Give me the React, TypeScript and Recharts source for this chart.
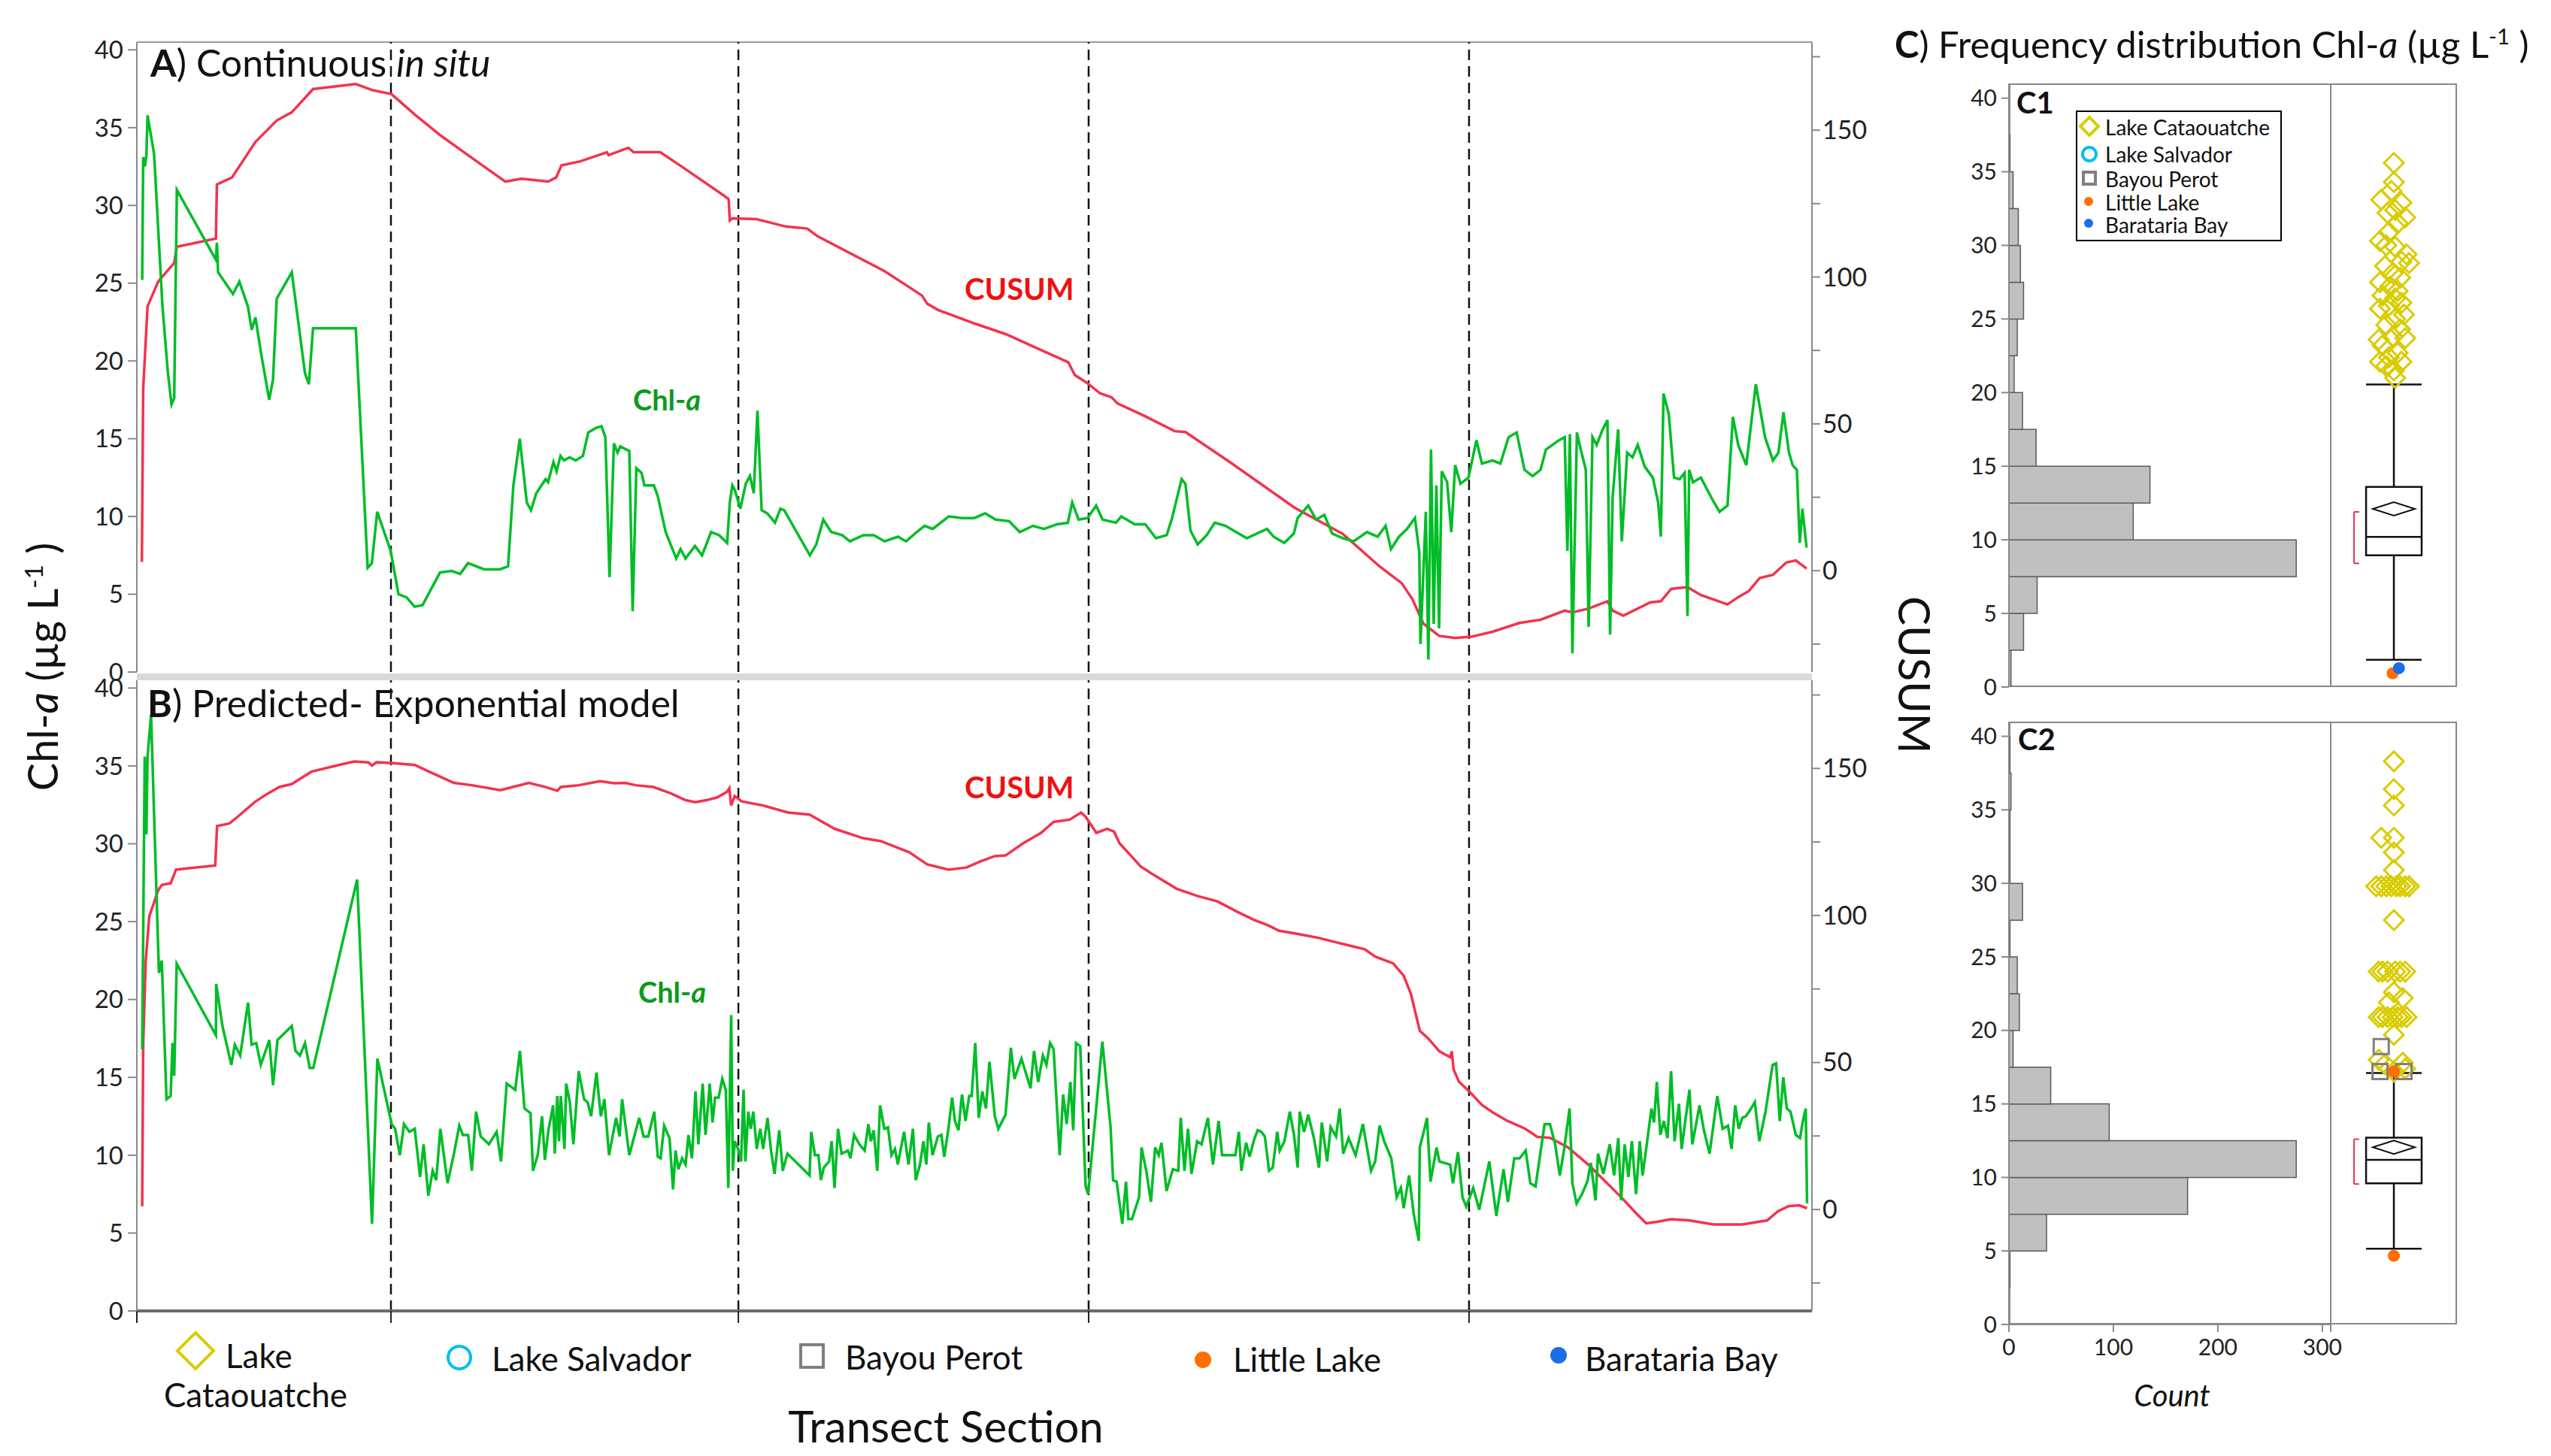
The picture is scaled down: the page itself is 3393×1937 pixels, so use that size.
import React from "react";
import {
  LineChart,
  Line,
  XAxis,
  YAxis,
  ReferenceLine,
  ReferenceArea,
  ComposedChart,
  Bar,
  Scatter,
} from "recharts";

// ---------- data (transect position 0-1000, Chl-a in µg/L, CUSUM) ----------

const sectionBreaks = [151.7, 359.1, 568.2, 795.3];
const chlTicks = [0, 5, 10, 15, 20, 25, 30, 35, 40];
const cusumTicks = [-25, 0, 25, 50, 75, 100, 125, 150, 175];
const histTicks = [0, 5, 10, 15, 20, 25, 30, 35, 40];
const countTicks = [0, 100, 200, 300];

const cusumInSitu = [
  [3, 3], [3.8, 62], [6.4, 90], [12.8, 98.5], [22.3, 104.8], [23.9, 110.3], [47.2, 113.1], [47.8, 131.5],
  [56.8, 133.9], [70.8, 146], [83.5, 153.3], [92.5, 156.1], [105.2, 164], [130.7, 165.7], [140.3, 163.7],
  [152, 162.3], [165.8, 155.4], [181.8, 148], [197.7, 141.5], [220, 132.5], [229.6, 133.5], [245.5, 132.5],
  [250.3, 133.9], [253.5, 138], [264.7, 139.4], [280.6, 142.5], [281.6, 141.5], [293.4, 144], [296.6, 142.5],
  [312.5, 142.5], [325.3, 137.6], [350.8, 127.6], [353.3, 126.5], [354, 119.3], [355.5, 120], [369.9, 119.7],
  [387.4, 117.2], [400.2, 116.5], [406.6, 113.8], [446.4, 102], [468.7, 93.7], [471.9, 90.9], [478.3, 88.8],
  [500, 84.2], [519, 80.5], [538, 75.6], [556, 71], [560, 66.6], [567.6, 63.8], [575, 60.4], [582, 59],
  [585.5, 56.9], [599, 53.4], [619.6, 47.5], [626, 47.2], [653, 36.8], [691, 21.5], [720, 12.5], [742, 1.4],
  [755, -4.2], [761.5, -9.7], [768, -18], [777.4, -22.2], [787, -22.9], [796.6, -22.5], [809.3, -20.8],
  [825.3, -17.8], [838, -16.7], [852.4, -13.6], [857, -14.2], [866.7, -12.9], [877.9, -10.4], [881, -13.6],
  [887.4, -15.3], [903.4, -10.8], [909.8, -10.4], [916, -6.2], [925.7, -5.6], [933.7, -8.3], [949.6, -11.5],
  [956, -9], [962.4, -6.9], [968.8, -2.5], [976.7, -1.4], [984.7, 2.8], [990.4, 3.5], [996.8, 0.7],
];

const chlInSitu = [
  [3.2, 25.2], [3.8, 33.1], [4.8, 32.5], [5.7, 33.2], [6.4, 35.8], [10.3, 33.3], [15.3, 23.5], [18.5, 19.3],
  [20.7, 17.2], [22.3, 17.6], [23.9, 31], [47.2, 26.5], [47.8, 27.6], [48.5, 25.7], [57.4, 24.3], [61.2, 25.1],
  [66.3, 23.5], [68.6, 22], [70.8, 22.8], [74, 20.6], [79, 17.5], [81.3, 18.8], [83.5, 24], [92.5, 25.7],
  [100.4, 19.2], [102.7, 18.5], [105.2, 22.1], [130.7, 22.1], [137.8, 6.7], [140.3, 7], [143.5, 10.3],
  [151.5, 7.8], [156.2, 5], [161, 4.8], [165.8, 4.2], [170.6, 4.3], [177, 5.6], [181, 6.4], [188, 6.5],
  [193, 6.3], [197.7, 7], [207.3, 6.6], [216.8, 6.6], [221.6, 6.8], [224.8, 12], [228.6, 15], [232.8, 10.9],
  [235.3, 10.4], [238.5, 11.5], [244, 12.4], [245.5, 12.2], [248.7, 13.5], [250.6, 12.9], [252.9, 13.9],
  [255, 13.6], [258.3, 13.8], [262, 13.6], [266.3, 13.9], [269.5, 15.4], [274.2, 15.7], [277.4, 15.8],
  [279.7, 15.1], [282.2, 6.1], [284.8, 14.7], [287, 14.1], [288.6, 14.5], [294, 14.2], [296, 3.9], [298.2, 13.1],
  [301.3, 12.8], [303, 12], [308.7, 12], [311, 11.3], [315.7, 9], [322, 7.3], [324.6, 7.9], [327.5, 7.3],
  [333.2, 8.1], [337.4, 7.5], [342.8, 9], [347.6, 8.8], [352.4, 8.3], [354, 10.9], [355.5, 12], [357, 11.7],
  [360.3, 10.5], [363.5, 12.1], [366, 12.6], [368.3, 11.5], [370.5, 16.8], [373, 10.4], [376.3, 10.2],
  [381, 9.6], [384.2, 10.5], [386.5, 10.4], [401.8, 7.5], [405.6, 8.2], [409.8, 9.8], [414.5, 9], [421, 8.8],
  [425.7, 8.4], [433.7, 8.8], [440, 8.8], [446.4, 8.4], [454.4, 8.7], [459.2, 8.4], [465.6, 9], [470.3, 9.4],
  [475.1, 9.2], [484.7, 10], [492.7, 9.9], [500, 9.9], [506.4, 10.2], [512.8, 9.8], [520.7, 9.7], [527.1, 9],
  [535, 9.4], [541.5, 9.2], [549.4, 9.5], [555.8, 9.6], [558.4, 10.9], [562.2, 9.8], [567.6, 9.9], [572.7, 10.7],
  [576.5, 9.8], [584.5, 9.6], [587.7, 10], [595.7, 9.5], [602, 9.5], [608.4, 8.6], [614.8, 8.8], [618, 9.9],
  [623.7, 12.4], [626, 12.1], [629, 9.1], [633.3, 8.2], [638.7, 8.8], [643.5, 9.6], [649.9, 9.4], [656.2, 9],
  [662.6, 8.6], [674.7, 9.2], [678.6, 8.7], [685, 8.3], [690.7, 8.9], [693, 9.9], [699.3, 10.7], [704, 9.8],
  [708.9, 10.1], [713.6, 8.9], [720, 8.6], [726.4, 8.4], [734.4, 9], [740.7, 8.7], [745.5, 9.4], [748.7, 7.9],
  [753.5, 8.7], [758.3, 9.2], [763, 9.9], [765.6, 7.7], [766.3, 1.8], [769.5, 10.3], [771, 0.8], [772.6, 14.3],
  [774.2, 3.1], [775.8, 12], [777.4, 2.8], [779, 12.9], [782.2, 12.2], [784.7, 9], [787, 13.3], [790.2, 12.1],
  [795, 12.5], [799.7, 14.9], [803, 13.4], [809.3, 13.6], [814, 13.4], [818.9, 15.1], [823.7, 15.4],
  [828.4, 13], [833.2, 12.6], [838, 13], [841.2, 14.3], [849, 14.9], [852.4, 15.1], [854, 7.8], [855.5, 15.3],
  [857, 1.2], [859.7, 15.4], [862, 14.3], [865, 13], [866.7, 2.9], [869, 15.1], [871.5, 14.6], [874.7, 15.5],
  [877.9, 16.2], [879.5, 2.4], [881, 11.2], [884.3, 15.6], [886.5, 8.4], [889.7, 14.1], [892.9, 13.8],
  [896, 14.6], [900.2, 13.2], [905, 12.5], [908.2, 10.9], [909.8, 8.7], [911.4, 17.9], [914.5, 16.6],
  [917.7, 12.5], [921, 12.4], [924, 12.8], [925.7, 3.6], [926.7, 13], [929, 12.2], [933.7, 12.5], [940, 11.2],
  [944.8, 10.3], [949.6, 10.7], [952.8, 16.4], [956, 14.6], [960.8, 13.3], [966.5, 18.5], [972, 15.1],
  [976.7, 13.6], [980, 14.1], [983, 16.7], [986.3, 14.1], [988.5, 13.3], [991, 13], [992.7, 8.3],
  [994.3, 10.5], [996.8, 8],
];

const cusumPredicted = [
  [3.2, 1.1], [3.8, 56.6], [5.3, 84.4], [7.4, 99.6], [12.8, 108.6], [14.9, 110.4], [20.2, 111], [23.4, 115.6],
  [46.8, 117], [47.9, 130.4], [55.3, 131.3], [61.7, 134.3], [70.2, 138.5], [77.6, 141.3], [85.1, 143.7],
  [92.5, 144.7], [104.2, 148.9], [119.1, 151], [129.8, 152.4], [138.3, 152.1], [140.4, 151], [143, 152.1],
  [152.1, 151.9], [165.9, 151.2], [178.7, 147.8], [189.3, 145.1], [200, 144.3], [217, 142.6], [224.4, 143.7],
  [234, 145.1], [244.6, 143.6], [251, 142.4], [253.1, 143.7], [263.8, 144.3], [276.5, 145.7], [285, 145],
  [291.4, 145.1], [297.8, 144.3], [308.4, 143.7], [319, 141.5], [327.6, 139.2], [333.5, 138.5], [339.9, 139.2],
  [346.3, 140.1], [352.2, 142], [353.7, 143.3], [354.8, 137.4], [356.9, 140.6], [361.2, 138.8], [373.9, 137.4],
  [388.8, 135], [401.6, 134.3], [416.5, 129.5], [433.5, 126.3], [444.1, 125.3], [461.1, 121.5], [471.8, 117.4],
  [484.5, 115.6], [495.2, 116.3], [503.7, 118.4], [512.2, 120.2], [518.6, 120.4], [529.2, 124.6],
  [539.8, 128.1], [547.3, 131.8], [556.9, 132.6], [563.7, 135], [566.4, 133.6], [572.8, 128.1], [579.2, 129.5],
  [583.4, 128.5], [586.6, 124.6], [599.4, 116.6], [607.9, 113.5], [620.7, 109.1], [633.4, 106.6],
  [645.1, 104.8], [656.8, 101.3], [667, 98.5], [675.5, 96.6], [681.9, 94.8], [692.5, 93.8], [705.3, 92.4],
  [718, 90.6], [733, 88.5], [739.3, 86], [750, 83.7], [756.3, 79.5], [760.6, 73.3], [765.9, 60.8], [771.2, 58],
  [777.6, 53.8], [784, 51.8], [785, 53.8], [786.1, 47.6], [789.3, 43.4], [795.3, 40.2], [803.1, 35.5],
  [809.5, 33], [818, 30.2], [828.7, 27.5], [836.1, 24.7], [843.6, 24.4], [854.2, 21.2], [867, 15], [886.1, 4.2],
  [894.6, -1], [901, -4.7], [907.4, -4.2], [915.9, -3.3], [926.5, -3.7], [941.4, -5.1], [958.4, -5.1],
  [973.3, -3.7], [979.7, -0.6], [986, 1.1], [992.5, 1.4], [997.1, 0.4],
];

const chlPredicted = [
  [3.2, 16.8], [4.7, 35.6], [5.7, 30.6], [6.4, 35.6], [8.5, 38.3], [10.6, 30.8], [13.2, 21.7], [14.9, 22.5],
  [17.7, 13.6], [20.2, 13.8], [21.3, 17.2], [22.3, 15.1], [23.8, 22.3], [47.2, 17.7], [47.4, 21], [51.1, 18.3],
  [56.4, 15.8], [58.5, 17.1], [61.7, 16.4], [66.4, 19.8], [68.5, 17.1], [71.3, 17.2], [74, 15.8], [79.1, 17.4],
  [81.3, 14.5], [84, 17.4], [92.5, 18.3], [94.7, 16.7], [97.4, 16.4], [100.4, 17.2], [103.2, 15.6],
  [105.3, 15.6], [131.5, 27.7], [140.4, 5.6], [143.6, 16.2], [152.1, 12], [154.2, 11.7], [157, 10],
  [159.5, 12], [162.7, 11.5], [165.9, 11.7], [169.1, 8.6], [171.2, 10.7], [174, 7.4], [176.6, 9], [178.7, 8.4],
  [181.2, 11.7], [185.5, 8.2], [189.3, 10.1], [192.5, 11.9], [194.6, 11.3], [197.8, 11.3], [200, 9],
  [202.5, 12.8], [205.3, 11.2], [210.2, 10.7], [214.8, 11.5], [217.4, 9.6], [220.8, 14.6], [225.9, 14.2],
  [228.7, 16.7], [231.4, 13], [235, 12.7], [236.5, 9], [239.3, 10], [241.9, 12.5], [243.6, 9.7], [245.7, 11.6],
  [248.5, 13.2], [249.5, 10.1], [251, 13.8], [252, 10.9], [253.1, 13.8], [255.3, 10.4], [256.3, 14.6],
  [258.5, 13.4], [260.6, 10.7], [263.8, 15.4], [267, 13.6], [269.1, 13.4], [271.2, 12.5], [274.4, 15.3],
  [277, 12.5], [279.1, 13.6], [281.9, 10], [286.1, 12.4], [288.2, 11.2], [289.7, 13.6], [294, 10],
  [299.9, 12.4], [302.5, 11.2], [305.3, 11.2], [308.9, 12.8], [311, 9.9], [312.7, 9.8], [314.8, 11.9],
  [318, 11.1], [320.1, 7.8], [321.6, 10.3], [323.3, 9.1], [325.5, 9.8], [327.6, 9.4], [329.3, 11.3],
  [331.4, 9.8], [333.5, 14.1], [335.2, 10.7], [337.8, 14.6], [339.5, 11.3], [342, 14.6], [343.7, 12.1],
  [345.2, 13.7], [347.3, 13.7], [349.5, 14.9], [351.6, 14.2], [353.1, 7.9], [354.8, 19], [355.8, 9],
  [356.9, 10.9], [359, 10.4], [360.7, 9.6], [362.2, 14.2], [363.3, 9.6], [365, 12.8], [366.5, 11.7],
  [368, 12.8], [370.1, 10.4], [372.2, 11.7], [373.9, 10.4], [376.5, 12.4], [378.6, 10.3], [380.7, 8.8],
  [383.5, 11.6], [385.6, 9], [388.4, 10.1], [401.6, 8.7], [402.6, 11.5], [404.8, 10], [406.9, 10],
  [408.4, 8.4], [410.1, 9.2], [413.3, 9.6], [414.8, 10.9], [416.5, 7.9], [418.6, 11.7], [420.7, 10.1],
  [424.5, 10.3], [426, 9.8], [428.2, 11.3], [431.3, 10.7], [434.5, 10.3], [436.7, 12], [438.2, 10.9],
  [439.9, 11.6], [442, 9], [443.7, 13.2], [446.2, 11.7], [448.4, 11.8], [450.5, 10], [452.6, 10.4],
  [454.3, 9.4], [458, 11.5], [460.7, 9.4], [463.3, 11.7], [465, 8.4], [467.5, 9.4], [469.6, 10.9],
  [471.3, 9.4], [472.8, 12.1], [475, 10], [478.2, 11.2], [480.3, 11.3], [482, 9.9], [484.5, 11.7],
  [486.7, 13.7], [488.4, 12.2], [490.5, 11.6], [492.6, 13.9], [494.7, 12.2], [496.9, 13.8], [498.4, 13.8],
  [500.5, 17.2], [502.6, 12.4], [504.7, 14.1], [506.9, 13], [509, 16], [512.2, 12.5], [514.3, 11.7],
  [518.6, 12.6], [521.8, 16.9], [523.9, 14.9], [528.1, 16.2], [533.5, 14.3], [535.6, 16.7], [538.1, 14.7],
  [540.9, 16.4], [543, 15.8], [545.2, 17.2], [547.3, 16.8], [550.9, 10], [553, 13.9], [555.1, 12],
  [557.3, 14.7], [559, 11.6], [560.7, 17.2], [563.2, 17], [566.4, 8], [567.9, 7.5], [570.7, 10.7],
  [576.4, 17.3], [581.3, 11.8], [582.8, 8.4], [584.9, 8.3], [588.3, 5.6], [590.5, 8.3], [591.9, 5.9],
  [594.1, 5.9], [598.3, 7.3], [599.8, 10.5], [602.6, 9], [605.4, 7], [607.9, 10.5], [610, 10], [611.7, 10.8],
  [614.7, 7.7], [618.5, 9.1], [621.7, 9], [623.2, 12.4], [625.4, 9], [627.5, 11.7], [629.6, 8.8], [633, 10.9],
  [635.6, 10.7], [639.4, 12.4], [642.4, 9.4], [645.8, 12.2], [647.9, 10], [651.5, 10], [655.8, 10],
  [657.9, 11.5], [659.4, 9], [662.2, 10.8], [664.3, 9.9], [667, 11], [669.1, 11.6], [671.3, 11.5],
  [673.4, 11.2], [675.9, 9], [678.1, 9.2], [680.8, 11.5], [682.3, 10.3], [685.1, 10.9], [688.3, 12.8],
  [690.8, 11.3], [693, 9.2], [694.2, 12.8], [696.8, 11.5], [699.3, 12.6], [702.7, 11.1], [705.7, 9.2],
  [707.4, 12.1], [710.6, 9.6], [712.7, 11.8], [715.9, 11.2], [718.1, 13], [720.2, 10.1], [723.4, 11.1],
  [727.6, 10], [731.9, 12], [736.8, 9], [739.3, 9.6], [741.9, 11.9], [744.6, 10.9], [748.9, 9.8], [752.1, 7.3],
  [754.6, 7.9], [756.3, 6.6], [759.5, 8.7], [762.3, 6.2], [765.3, 4.5], [765.9, 10.5], [768.7, 11.7],
  [770.2, 12.4], [772.3, 8.3], [775.9, 10.5], [777.6, 9.6], [784, 9.4], [785.7, 8.2], [788.7, 10.2],
  [791.4, 7.3], [793.6, 6.7], [797.8, 7.9], [801.4, 6.5], [807.4, 9.6], [811.6, 6.1], [815.9, 9.1], [818.5, 7],
  [822.3, 9.8], [825.5, 9.8], [829.1, 10.3], [831.9, 8.2], [835, 8], [840.4, 12], [843.6, 12], [846.7, 10.7],
  [849.5, 8.7], [852.1, 10.4], [855.3, 13], [857, 8.2], [859.5, 6.9], [862.7, 7.5], [865.9, 8.3], [868, 9.5],
  [870.8, 7.1], [872.3, 10.1], [875.5, 8.8], [879.3, 10.7], [881.9, 8.7], [884.4, 11.1], [886.1, 7.1],
  [888.2, 10.7], [890.4, 8.6], [892.5, 10.9], [895, 7.5], [897.2, 10.9], [898.9, 8.7], [901.4, 10.7],
  [904.2, 13], [905.7, 12.1], [907.4, 14.7], [909.5, 11.3], [911.6, 12.2], [913.8, 11.1], [915.9, 15.4],
  [918, 10.9], [920.6, 13.3], [922.2, 10.4], [924.4, 12.2], [926.9, 14.2], [928.6, 10.7], [932.9, 13.2],
  [935.5, 11.6], [938.9, 10.1], [943.5, 13.8], [946.7, 11.7], [949.9, 11.9], [952, 10.4], [954.2, 13.2],
  [956.3, 11.7], [958.4, 12.4], [960.5, 12.5], [963.1, 12.9], [965.9, 13.4], [968.6, 10.9], [972.3, 12.8],
  [976.5, 15.8], [978.6, 15.9], [980.8, 12.2], [982.9, 15], [985, 13], [987.2, 12.8], [990.4, 11.3],
  [992.9, 11.1], [994.6, 12.2], [996.3, 13], [997.1, 6.9],
];

// histogram bins (lower edge, µg/L) and counts
const binStarts = [0, 2.5, 5, 7.5, 10, 12.5, 15, 17.5, 20, 22.5, 25, 27.5, 30, 32.5, 35, 37.5];
const countsC1 = [2, 14, 27, 275, 119, 135, 26, 13, 5, 8, 14, 11, 9, 4, 1, 0];
const countsC2 = [0, 1, 36, 171, 275, 96, 40, 4, 10, 8, 1, 13, 1, 1, 2, 1];

// box plot summaries: [lowWhisker, q1, median, q3, highWhisker, mean, shortestHalfLo, shortestHalfHi]
const boxC1 = [1.85, 8.95, 10.2, 13.6, 20.55, 12.1, 8.4, 11.9];
const boxC2 = [5.15, 9.6, 11.2, 12.7, 17.1, 12.05, 9.55, 12.6];

// outliers: [jitter, value]
const cataouatcheC1 = [
  [0.5, 35.6], [0.5, 34.3], [0.48, 33.7], [0.4, 33.1], [0.56, 32.9], [0.51, 32.4], [0.45, 32.2], [0.59, 31.9],
  [0.53, 31.5], [0.46, 30.9], [0.39, 30.3], [0.44, 30], [0.51, 29.9], [0.6, 29.4], [0.56, 28.9], [0.62, 28.8],
  [0.43, 28.6], [0.49, 28.1], [0.55, 27.8], [0.39, 27.5], [0.47, 27.2], [0.53, 26.9], [0.41, 26.6], [0.51, 26.4],
  [0.56, 26.1], [0.46, 25.9], [0.39, 25.7], [0.58, 25.3], [0.51, 25], [0.44, 24.6], [0.55, 24.3], [0.49, 23.8],
  [0.38, 23.6], [0.59, 23.7], [0.41, 23.2], [0.53, 22.7], [0.46, 22.4], [0.56, 22.1], [0.39, 22.1],
  [0.44, 21.8], [0.5, 21.5], [0.51, 21],
];
const littleLakeC1 = [[0.49, 0.93]];
const baratariaC1 = [[0.54, 1.28]];

const cataouatcheC2 = [
  [0.5, 38.3], [0.5, 36.4], [0.5, 35.3], [0.4, 33.1], [0.5, 33.1], [0.5, 32.1], [0.5, 30.9],
  [0.36, 29.8], [0.4, 29.8], [0.44, 29.8], [0.48, 29.8], [0.52, 29.8], [0.55, 29.8], [0.59, 29.8], [0.62, 29.8],
  [0.5, 27.5], [0.38, 24], [0.41, 24], [0.45, 24], [0.51, 24], [0.55, 24], [0.59, 24],
  [0.5, 22.6], [0.57, 22.2], [0.46, 21.9],
  [0.38, 20.9], [0.41, 20.9], [0.45, 20.9], [0.49, 20.9], [0.53, 20.9], [0.56, 20.9], [0.6, 20.9],
  [0.5, 19.7], [0.38, 18], [0.43, 17.7], [0.57, 17.8], [0.5, 17.2], [0.59, 17.4],
];
const bayouPerotC2 = [[0.4, 18.9], [0.39, 17.2], [0.58, 17.2]];
const littleLakeC2 = [[0.5, 17.2], [0.5, 4.67]];

// ---------- styles ----------
const FONT = "Lato, 'Liberation Sans', sans-serif";
const GREEN = "#00BD27";
const RED = "#F2334F";
const AXIS = "#8a8a8a";
const YELLOW = "#D9CC00";
const CYAN = "#00BFEF";
const GRAY = "#7f7f7f";
const ORANGE = "#FF6F00";
const BLUE = "#1A6EE8";

const toXY = (arr: number[][]) => arr.map(([p, v]) => ({ p, v }));
const toPt = (arr: number[][]) => arr.map(([x, y]) => ({ x, y }));

function At({ x, y, center = false, rotate = 0, size, children, style = {} }: any) {
  const tx = center ? "-50%" : "0";
  return (
    <div
      style={{
        position: "absolute",
        left: x,
        top: y,
        fontSize: size,
        lineHeight: 1,
        whiteSpace: "nowrap",
        transform: `translate(${tx}, -50%)${rotate ? ` rotate(${rotate}deg)` : ""}`,
        ...style,
      }}
    >
      {children}
    </div>
  );
}

const RightTick = (props: any) => {
  const { x, y, payload } = props;
  if (payload.value % 50 !== 0) return <g />;
  return (
    <text x={x} y={y} dy={12} textAnchor="start" fontSize={34} fill="#222">
      {payload.value}
    </text>
  );
};

const EmptyTick = () => <g />;

// plot area always spans x 182..2410
function TransectPanel({ top, height, marginTop, marginBottom, cusum, chl, showTop, showBottom }: any) {
  return (
    <div style={{ position: "absolute", left: 0, top }}>
      <LineChart
        width={2560}
        height={height}
        margin={{ top: marginTop, right: 30, bottom: marginBottom, left: 82 }}
      >
        <XAxis
          type="number"
          dataKey="p"
          domain={[0, 1000]}
          allowDataOverflow
          hide={!showBottom}
          height={20}
          ticks={[0, ...sectionBreaks]}
          interval={0}
          tick={EmptyTick}
          tickSize={16}
          axisLine={{ stroke: "#6b6b6b", strokeWidth: 4 }}
          tickLine={{ stroke: "#222", strokeWidth: 2 }}
        />
        <YAxis
          yAxisId="chl"
          type="number"
          domain={[0, 40.5]}
          allowDataOverflow
          ticks={chlTicks}
          interval={0}
          width={100}
          tickSize={12}
          tickMargin={6}
          axisLine={{ stroke: AXIS, strokeWidth: 2 }}
          tickLine={{ stroke: AXIS, strokeWidth: 2 }}
          tick={{ fontSize: 33, fill: "#222" }}
        />
        <YAxis
          yAxisId="cusum"
          orientation="right"
          type="number"
          domain={[-34.5, 180]}
          allowDataOverflow
          ticks={cusumTicks}
          interval={0}
          width={120}
          tickSize={11}
          tickMargin={3}
          axisLine={{ stroke: AXIS, strokeWidth: 2 }}
          tickLine={{ stroke: AXIS, strokeWidth: 2 }}
          tick={RightTick}
        />
        {showTop && <ReferenceLine yAxisId="chl" y={40.5} stroke="#9a9a9a" strokeWidth={2} />}
        {sectionBreaks.map((b) => (
          <ReferenceLine
            key={b}
            yAxisId="chl"
            x={b}
            stroke="#111"
            strokeWidth={2.5}
            strokeDasharray="14 8"
          />
        ))}
        <Line
          yAxisId="cusum"
          data={toXY(cusum)}
          dataKey="v"
          stroke={RED}
          strokeWidth={3.5}
          dot={false}
          isAnimationActive={false}
        />
        <Line
          yAxisId="chl"
          data={toXY(chl)}
          dataKey="v"
          stroke={GREEN}
          strokeWidth={3.5}
          dot={false}
          isAnimationActive={false}
        />
      </LineChart>
    </div>
  );
}

const diamond = (half: number, color: string, sw: number) => (props: any) => {
  const { cx, cy } = props;
  return (
    <polygon
      points={`${cx},${cy - half} ${cx + half},${cy} ${cx},${cy + half} ${cx - half},${cy}`}
      fill="none"
      stroke={color}
      strokeWidth={sw}
    />
  );
};
const square = (half: number, color: string) => (props: any) => (
  <rect x={props.cx - half} y={props.cy - half} width={half * 2} height={half * 2} fill="none" stroke={color} strokeWidth={3} />
);
const dot = (r: number, color: string) => (props: any) => <circle cx={props.cx} cy={props.cy} r={r} fill={color} />;
const meanDiamond = (props: any) => {
  const { cx, cy } = props;
  return (
    <polygon
      points={`${cx - 28},${cy} ${cx},${cy - 9} ${cx + 28},${cy} ${cx},${cy + 9}`}
      fill="none"
      stroke="#111"
      strokeWidth={2}
    />
  );
};

// histogram plot area spans x 2672..3100
function HistPanel({ top, height, plotTop, plotBottom, counts, showCount }: any) {
  const data = binStarts
    .map((b, i) => ({ mid: b + 1.25, count: counts[i] }))
    .filter((d) => d.count > 0);
  const axisH = showCount ? 60 : 0;
  return (
    <div style={{ position: "absolute", left: 2580, top }}>
      <ComposedChart
        layout="vertical"
        width={540}
        height={height}
        data={data}
        barCategoryGap={0}
        barGap={0}
        margin={{ top: plotTop - top, right: 20, bottom: height - (plotBottom - top) - axisH, left: 12 }}
      >
        <XAxis
          type="number"
          domain={[0, 308]}
          allowDataOverflow
          hide={!showCount}
          ticks={countTicks}
          interval={0}
          height={60}
          tickSize={10}
          tickMargin={10}
          axisLine={{ stroke: AXIS, strokeWidth: 2 }}
          tickLine={{ stroke: AXIS, strokeWidth: 2 }}
          tick={{ fontSize: 30, fill: "#222" }}
        />
        <YAxis
          type="number"
          dataKey="mid"
          domain={[0, 41]}
          reversed
          allowDataOverflow
          ticks={histTicks}
          interval={0}
          width={80}
          tickSize={10}
          tickMargin={6}
          axisLine={{ stroke: AXIS, strokeWidth: 2 }}
          tickLine={{ stroke: AXIS, strokeWidth: 2 }}
          tick={{ fontSize: 30, fill: "#222" }}
        />
        <Bar dataKey="count" fill="#C0C0C0" stroke="#5a5a5a" strokeWidth={1.5} isAnimationActive={false} />
      </ComposedChart>
    </div>
  );
}

// box plot area spans x 3100..3268
function BoxPanel({ top, marginTop, plotH, stats, groups }: any) {
  const [lo, q1, med, q3, hi, mean, shLo, shHi] = stats;
  const line = { stroke: "#111", strokeWidth: 2.5 };
  return (
    <div style={{ position: "absolute", left: 3100, top }}>
      <ComposedChart width={168} height={830} margin={{ top: marginTop, right: 0, bottom: 830 - marginTop - plotH, left: 0 }}>
        <XAxis type="number" dataKey="x" domain={[0, 1]} hide />
        <YAxis type="number" dataKey="y" domain={[0, 41]} hide allowDataOverflow />
        <ReferenceArea x1={0.28} x2={0.72} y1={q1} y2={q3} fill="#fff" fillOpacity={0} stroke="#111" strokeWidth={2.5} />
        <ReferenceLine segment={[{ x: 0.28, y: med }, { x: 0.72, y: med }]} {...line} />
        <ReferenceLine segment={[{ x: 0.5, y: q3 }, { x: 0.5, y: hi }]} {...line} />
        <ReferenceLine segment={[{ x: 0.5, y: q1 }, { x: 0.5, y: lo }]} {...line} />
        <ReferenceLine segment={[{ x: 0.28, y: hi }, { x: 0.72, y: hi }]} {...line} />
        <ReferenceLine segment={[{ x: 0.28, y: lo }, { x: 0.72, y: lo }]} {...line} />
        <ReferenceLine segment={[{ x: 0.185, y: shLo }, { x: 0.185, y: shHi }]} stroke="#E8304E" strokeWidth={2} />
        <ReferenceLine segment={[{ x: 0.185, y: shLo }, { x: 0.225, y: shLo }]} stroke="#E8304E" strokeWidth={2} />
        <ReferenceLine segment={[{ x: 0.185, y: shHi }, { x: 0.225, y: shHi }]} stroke="#E8304E" strokeWidth={2} />
        <Scatter data={[{ x: 0.5, y: mean }]} dataKey="y" shape={meanDiamond} isAnimationActive={false} />
        {groups.map((g: any, i: number) => (
          <Scatter key={i} data={toPt(g.data)} dataKey="y" shape={g.shape} isAnimationActive={false} />
        ))}
      </ComposedChart>
    </div>
  );
}

function LegendMark({ x, y, kind, size }: any) {
  const s = size;
  let el: any = null;
  if (kind === "diamond")
    el = <polygon points={`${s},3 ${2 * s - 3},${s} ${s},${2 * s - 3} 3,${s}`} fill="none" stroke={YELLOW} strokeWidth={4} />;
  if (kind === "circle") el = <circle cx={s} cy={s} r={s - 4} fill="none" stroke={CYAN} strokeWidth={4} />;
  if (kind === "square") el = <rect x={4} y={4} width={2 * s - 8} height={2 * s - 8} fill="none" stroke={GRAY} strokeWidth={4} />;
  if (kind === "orange") el = <circle cx={s} cy={s} r={s - 2} fill={ORANGE} />;
  if (kind === "blue") el = <circle cx={s} cy={s} r={s - 2} fill={BLUE} />;
  return (
    <svg style={{ position: "absolute", left: x - s, top: y - s }} width={2 * s} height={2 * s}>
      {el}
    </svg>
  );
}

export default function App() {
  const boxGroupsC1 = [
    { data: cataouatcheC1, shape: diamond(13, YELLOW, 3) },
    { data: littleLakeC1, shape: dot(8, ORANGE) },
    { data: baratariaC1, shape: dot(8, BLUE) },
  ];
  const boxGroupsC2 = [
    { data: cataouatcheC2, shape: diamond(13, YELLOW, 3) },
    { data: bayouPerotC2, shape: square(10, GRAY) },
    { data: littleLakeC2, shape: dot(8, ORANGE) },
  ];

  return (
    <div
      style={{
        position: "absolute",
        left: 0,
        top: 0,
        width: 3393,
        height: 1937,
        background: "#fff",
        overflow: "hidden",
        fontFamily: FONT,
        color: "#111",
      }}
    >
      {/* separator band between A and B */}
      <div style={{ position: "absolute", left: 182, top: 896, width: 2228, height: 9, background: "#D9D9D9" }} />

      <TransectPanel top={0} height={920} marginTop={56} marginBottom={26} cusum={cusumInSitu} chl={chlInSitu} showTop showBottom={false} />
      <TransectPanel top={880} height={890} marginTop={25} marginBottom={6} cusum={cusumPredicted} chl={chlPredicted} showTop={false} showBottom />

      <At x={200} y={83} size={50}>
        <b>A</b>) Continuous <i>in situ</i>
      </At>
      <At x={196} y={935} size={50}>
        <b>B</b>) Predicted- Exponential model
      </At>
      <At x={842} y={531} size={38} style={{ color: "#0B9A1E", fontWeight: 700 }}>
        Chl-<i>a</i>
      </At>
      <At x={849} y={1319} size={38} style={{ color: "#0B9A1E", fontWeight: 700 }}>
        Chl-<i>a</i>
      </At>
      <At x={1283} y={384} size={40} style={{ color: "#EE1111", fontWeight: 700 }}>
        CUSUM
      </At>
      <At x={1283} y={1047} size={40} style={{ color: "#EE1111", fontWeight: 700 }}>
        CUSUM
      </At>

      <At x={56} y={887} size={56} center rotate={-90}>
        Chl-<i>a</i> (µg L<span style={{ fontSize: "0.6em", verticalAlign: "super", lineHeight: 0 }}>-1</span> )
      </At>
      <At x={2547} y={898} size={58} center rotate={90}>
        CUSUM
      </At>
      <At x={1258} y={1897} size={58} center>
        Transect Section
      </At>

      {/* bottom site legend */}
      <LegendMark x={260} y={1797} kind="diamond" size={27} />
      <At x={300} y={1803} size={44}>Lake</At>
      <At x={340} y={1855} size={44} center>Cataouatche</At>
      <LegendMark x={611} y={1806} kind="circle" size={19} />
      <At x={654} y={1807} size={44}>Lake Salvador</At>
      <LegendMark x={1080} y={1804} kind="square" size={19} />
      <At x={1124} y={1805} size={44}>Bayou Perot</At>
      <LegendMark x={1600} y={1809} kind="orange" size={13} />
      <At x={1640} y={1808} size={44}>Little Lake</At>
      <LegendMark x={2073} y={1803} kind="blue" size={13} />
      <At x={2108} y={1807} size={44}>Barataria Bay</At>

      {/* panel C */}
      <At x={2520} y={58} size={49}>
        <b>C</b>) Frequency distribution Chl-<i>a</i> (µg L
        <span style={{ fontSize: "0.6em", verticalAlign: "super", lineHeight: 0 }}>-1</span> )
      </At>

      <div style={{ position: "absolute", left: 2672, top: 111, width: 596, height: 803, border: "2px solid #888", boxSizing: "border-box" }} />
      <div style={{ position: "absolute", left: 3099, top: 111, width: 2, height: 803, background: "#888" }} />
      <div style={{ position: "absolute", left: 2672, top: 960, width: 596, height: 802, border: "2px solid #888", boxSizing: "border-box" }} />
      <div style={{ position: "absolute", left: 3099, top: 960, width: 2, height: 812, background: "#888" }} />

      <HistPanel top={90} height={850} plotTop={111} plotBottom={914} counts={countsC1} showCount={false} />
      <HistPanel top={940} height={920} plotTop={960} plotBottom={1762} counts={countsC2} showCount />
      <BoxPanel top={100} marginTop={11} plotH={803} stats={boxC1} groups={boxGroupsC1} />
      <BoxPanel top={950} marginTop={10} plotH={802} stats={boxC2} groups={boxGroupsC2} />

      <At x={2682} y={136} size={40} style={{ fontWeight: 700 }}>C1</At>
      <At x={2684} y={983} size={40} style={{ fontWeight: 700 }}>C2</At>
      <At x={2889} y={1856} size={40} center style={{ fontStyle: "italic" }}>Count</At>

      {/* C1 legend */}
      <div style={{ position: "absolute", left: 2761, top: 147, width: 274, height: 174, border: "2px solid #000", background: "#fff", boxSizing: "border-box" }} />
      <LegendMark x={2779} y={168} kind="diamond" size={15} />
      <At x={2800} y={169} size={28}>Lake Cataouatche</At>
      <LegendMark x={2779} y={205} kind="circle" size={13} />
      <At x={2800} y={205} size={28}>Lake Salvador</At>
      <LegendMark x={2779} y={237} kind="square" size={12} />
      <At x={2800} y={238} size={28}>Bayou Perot</At>
      <LegendMark x={2778} y={268} kind="orange" size={8} />
      <At x={2800} y={269} size={28}>Little Lake</At>
      <LegendMark x={2778} y={297} kind="blue" size={8} />
      <At x={2800} y={299} size={28}>Barataria Bay</At>
    </div>
  );
}
